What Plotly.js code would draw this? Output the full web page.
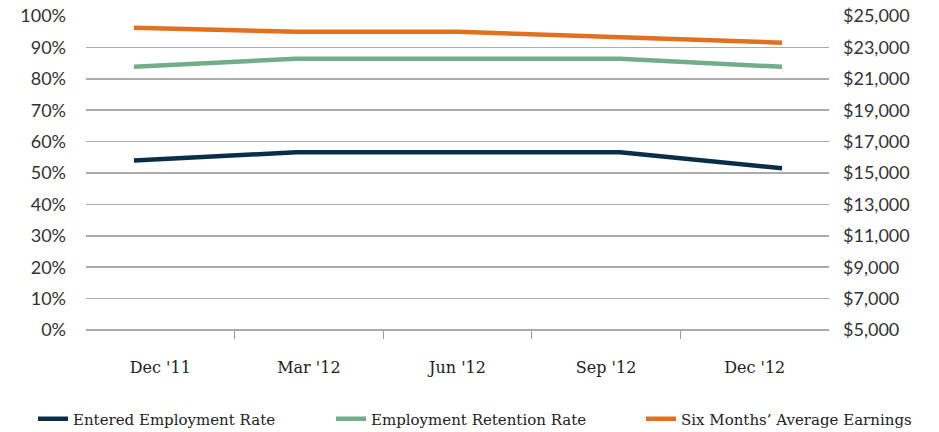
<!DOCTYPE html>
<html>
<head>
<meta charset="utf-8">
<script src="https://cdn.plot.ly/plotly-3.0.1.min.js"></script>
<style>html,body{margin:0;padding:0;background:#fff;}#chart{width:939px;height:432px;}</style>
</head>
<body>
<div id="chart"></div>
<script>
const categories = ["Dec '11", "Mar '12", "Jun '12", "Sep '12", "Dec '12"];
const enteredEmployment = [54.0, 56.6, 56.6, 56.6, 51.5];
const employmentRetention = [83.8, 86.4, 86.4, 86.4, 83.8];
const averageEarnings = [24250, 24000, 24000, 23650, 23300];
const seriesNames = ["Entered Employment Rate", "Employment Retention Rate", "Six Months\u2019 Average Earnings"];
const colors = ["#0b2e48", "#72ad8a", "#e2711f"];

const idx = categories.map((_, i) => i);

const traces = [
  {x: idx, y: idx.map(() => null), xaxis: 'x', yaxis: 'y', showlegend: false, hoverinfo: 'skip', mode: 'lines'},
  {x: idx, y: enteredEmployment, name: seriesNames[0], xaxis: 'x2', yaxis: 'y', mode: 'lines',
   line: {color: colors[0], width: 4.5}, legend: 'legend'},
  {x: idx, y: employmentRetention, name: seriesNames[1], xaxis: 'x2', yaxis: 'y', mode: 'lines',
   line: {color: colors[1], width: 4.5}, legend: 'legend2'},
  {x: idx, y: averageEarnings, name: seriesNames[2], xaxis: 'x2', yaxis: 'y2', mode: 'lines',
   line: {color: colors[2], width: 4.5}, legend: 'legend3'}
];

const tickFont = {family: 'Lato, sans-serif', size: 18, color: '#333'};
const catFont = {family: '"DejaVu Serif", serif', size: 16, color: '#222'};
const legFont = {family: '"DejaVu Serif", serif', size: 15, color: '#222'};

function legendAt(xpx) {
  return {
    orientation: 'h', xref: 'container', yref: 'container',
    x: xpx / 939, xanchor: 'left', y: (432 - 419) / 432, yanchor: 'middle',
    font: legFont, bgcolor: 'rgba(0,0,0,0)'
  };
}

const layout = {
  width: 939, height: 432,
  margin: {l: 86, r: 110, t: 16, b: 102, autoexpand: false},
  paper_bgcolor: '#fff', plot_bgcolor: '#fff',
  showlegend: true,
  xaxis: {
    type: 'linear', range: [-0.5, categories.length - 0.5],
    tickmode: 'array', tickvals: idx, ticktext: categories,
    ticks: '', showgrid: false, zeroline: false, automargin: false,
    showline: false, tickfont: catFont, ticklabelstandoff: 26,
    minor: {tickmode: 'array', tickvals: idx.slice(1).map(i => i - 0.5), ticks: 'outside', ticklen: 8, tickwidth: 1, tickcolor: '#999', showgrid: false},
    fixedrange: true
  },
  xaxis2: {
    overlaying: 'x', range: [-0.296, 4.29], visible: false, fixedrange: true
  },
  yaxis: {
    range: [0, 100], dtick: 10, tick0: 0, ticksuffix: '%', automargin: false,
    showgrid: true, gridcolor: '#ababab', gridwidth: 1.5,
    zeroline: true, zerolinecolor: '#ababab', zerolinewidth: 1.5,
    showline: false, ticks: '', tickfont: tickFont, ticklabelstandoff: 19, fixedrange: true
  },
  yaxis2: {
    overlaying: 'y', side: 'right', range: [5000, 25000], dtick: 2000, tick0: 5000, automargin: false,
    tickprefix: '$', tickformat: ',d', showgrid: false, zeroline: false, showline: false,
    ticks: '', tickfont: tickFont, ticklabelstandoff: 13, fixedrange: true
  },
  legend: legendAt(33),
  legend2: legendAt(331),
  legend3: legendAt(641)
};

Plotly.newPlot('chart', traces, layout, {displayModeBar: false, staticPlot: true});
</script>
</body>
</html>
